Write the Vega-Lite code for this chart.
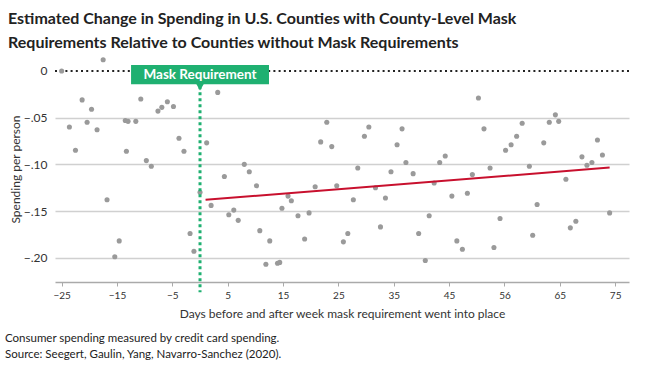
{
  "$schema": "https://vega.github.io/schema/vega-lite/v6.json",
  "padding": {"left": 5, "top": 11, "right": 5, "bottom": 5},
  "background": "white",
  "title": {
    "text": ["Estimated Change in Spending in U.S. Counties with County-Level Mask", "Requirements Relative to Counties without Mask Requirements"],
    "anchor": "start",
    "frame": "bounds",
    "dx": 3,
    "font": "Lato",
    "fontSize": 16,
    "fontWeight": "bold",
    "color": "#222222",
    "lineHeight": 24,
    "offset": 5
  },
  "datasets": {
    "pts": [
      {"day": -25, "spend": 0}, {"day": -17.5, "spend": 0.012}, {"day": -21.3, "spend": -0.031}, {"day": -19.6, "spend": -0.041},
      {"day": -23.6, "spend": -0.060}, {"day": -20.4, "spend": -0.055}, {"day": -18.6, "spend": -0.063}, {"day": -22.5, "spend": -0.085},
      {"day": -10.7, "spend": -0.030}, {"day": -13.5, "spend": -0.053}, {"day": -13.0, "spend": -0.054}, {"day": -11.6, "spend": -0.054},
      {"day": -13.3, "spend": -0.086}, {"day": -9.7, "spend": -0.096}, {"day": -8.8, "spend": -0.102}, {"day": -7.6, "spend": -0.043},
      {"day": -6.9, "spend": -0.039}, {"day": -5.9, "spend": -0.033}, {"day": -4.8, "spend": -0.038}, {"day": -3.8, "spend": -0.072},
      {"day": -2.9, "spend": -0.086}, {"day": -16.8, "spend": -0.138}, {"day": -14.6, "spend": -0.182}, {"day": -15.4, "spend": -0.199},
      {"day": -1.8, "spend": -0.174}, {"day": -1.1, "spend": -0.193}, {"day": 0, "spend": -0.130}, {"day": 1.2, "spend": -0.077},
      {"day": 3.2, "spend": -0.023}, {"day": 2.0, "spend": -0.144}, {"day": 4.4, "spend": -0.113}, {"day": 5.2, "spend": -0.154},
      {"day": 6.1, "spend": -0.149}, {"day": 6.9, "spend": -0.160}, {"day": 8.0, "spend": -0.100}, {"day": 8.9, "spend": -0.108},
      {"day": 10.2, "spend": -0.123}, {"day": 10.8, "spend": -0.171}, {"day": 12.6, "spend": -0.182}, {"day": 11.9, "spend": -0.207},
      {"day": 14.0, "spend": -0.206}, {"day": 14.4, "spend": -0.205}, {"day": 14.8, "spend": -0.147}, {"day": 15.9, "spend": -0.134},
      {"day": 16.5, "spend": -0.139}, {"day": 17.7, "spend": -0.155}, {"day": 18.9, "spend": -0.180}, {"day": 19.7, "spend": -0.152},
      {"day": 20.8, "spend": -0.124}, {"day": 21.8, "spend": -0.076}, {"day": 22.9, "spend": -0.055}, {"day": 23.8, "spend": -0.081},
      {"day": 24.7, "spend": -0.123}, {"day": 25.9, "spend": -0.183}, {"day": 26.7, "spend": -0.174}, {"day": 27.7, "spend": -0.138},
      {"day": 28.5, "spend": -0.104}, {"day": 29.7, "spend": -0.070}, {"day": 30.5, "spend": -0.060}, {"day": 31.7, "spend": -0.125},
      {"day": 32.6, "spend": -0.167}, {"day": 33.5, "spend": -0.136}, {"day": 34.5, "spend": -0.108}, {"day": 35.6, "spend": -0.079},
      {"day": 36.5, "spend": -0.062}, {"day": 37.2, "spend": -0.098}, {"day": 38.5, "spend": -0.110}, {"day": 39.5, "spend": -0.174},
      {"day": 40.7, "spend": -0.203}, {"day": 41.4, "spend": -0.155}, {"day": 42.3, "spend": -0.120}, {"day": 43.3, "spend": -0.098},
      {"day": 44.3, "spend": -0.091}, {"day": 45.5, "spend": -0.134}, {"day": 46.4, "spend": -0.182}, {"day": 47.4, "spend": -0.191},
      {"day": 48.3, "spend": -0.131}, {"day": 49.2, "spend": -0.111}, {"day": 50.3, "spend": -0.029}, {"day": 51.3, "spend": -0.062},
      {"day": 52.4, "spend": -0.104}, {"day": 53.1, "spend": -0.189}, {"day": 54.2, "spend": -0.158}, {"day": 55.2, "spend": -0.085},
      {"day": 56.2, "spend": -0.079}, {"day": 57.2, "spend": -0.070}, {"day": 58.2, "spend": -0.056}, {"day": 59.5, "spend": -0.102},
      {"day": 60.9, "spend": -0.143}, {"day": 60.1, "spend": -0.176}, {"day": 62.1, "spend": -0.077}, {"day": 63.1, "spend": -0.055},
      {"day": 64.2, "spend": -0.047}, {"day": 64.8, "spend": -0.054}, {"day": 66.1, "spend": -0.116}, {"day": 66.9, "spend": -0.168},
      {"day": 67.9, "spend": -0.161}, {"day": 69.0, "spend": -0.092}, {"day": 69.9, "spend": -0.101}, {"day": 70.8, "spend": -0.098},
      {"day": 71.8, "spend": -0.074}, {"day": 72.7, "spend": -0.090}, {"day": 74.0, "spend": -0.152}
    ],
    "fit": [{"day": 1, "spend": -0.138}, {"day": 74, "spend": -0.1035}],
    "zero": [{"spend": 0}],
    "mask": [{"day": 0, "top": -0.0165, "bottom": -0.237, "left": -12.46, "right": 12.46, "boxTop": 0.0064, "boxBottom": -0.0142, "mid": -0.0039, "tip": -0.0165, "label": "Mask Requirement"}]
  },
  "vconcat": [
    {
      "width": 574,
      "height": 226,
      "title": {
        "text": ["Consumer spending measured by credit card spending.", "Source: Seegert, Gaulin, Yang, Navarro-Sanchez (2020)."],
        "orient": "bottom",
        "anchor": "start",
        "frame": "group",
        "dx": -50,
        "font": "Lato",
        "fontSize": 11.5,
        "fontWeight": "normal",
        "color": "#222222",
        "lineHeight": 16,
        "offset": 14
      },
      "layer": [
        {
          "data": {"name": "zero"},
          "mark": {"type": "rule", "color": "#222222", "strokeWidth": 2, "strokeDash": [2, 3.2]},
          "encoding": {
            "y": {
              "field": "spend", "type": "quantitative",
              "scale": {"domain": [-0.226, 0.016], "nice": false, "zero": false},
              "axis": {
                "title": "Spending per person",
                "values": [0, -0.05, -0.1, -0.15, -0.2],
                "labelExpr": "datum.value == 0 ? '0' : replace(format(datum.value, '.2f'), '0.', '.')",
                "grid": true,
                "gridColor": {"condition": {"test": "datum.value === 0", "value": "transparent"}, "value": "#d0d0d0"},
                "gridWidth": 1.5,
                "domain": false,
                "ticks": false,
                "labelFont": "Lato",
                "labelFontSize": 12,
                "labelColor": "#333333",
                "labelPadding": 8,
                "titleFont": "Lato",
                "titleFontSize": 12,
                "titleFontWeight": "normal",
                "titleColor": "#333333",
                "titleX": -32.5,
                "titleBaseline": "bottom"
              }
            }
          }
        },
        {
          "data": {"name": "pts"},
          "mark": {"type": "circle", "color": "#9a9a9a", "opacity": 1, "size": 26},
          "encoding": {
            "x": {
              "field": "day", "type": "quantitative",
              "scale": {"domain": [-26.2, 77.5], "nice": false, "zero": false},
              "axis": {
                "title": "Days before and after week mask requirement went into place",
                "values": [-25, -15, -5, 5, 15, 25, 35, 45, 55, 65, 75],
                "labelExpr": "datum.value == 55 ? '56' : datum.label",
                "grid": false,
                "domainColor": "#aaaaaa",
                "domainWidth": 1.5,
                "tickColor": "#aaaaaa",
                "tickSize": 4,
                "labelFont": "Lato",
                "labelFontSize": 10,
                "labelColor": "#333333",
                "labelPadding": 4,
                "titleFont": "Lato",
                "titleFontSize": 12,
                "titleFontWeight": "normal",
                "titleColor": "#333333",
                "titlePadding": 8
              }
            },
            "y": {"field": "spend", "type": "quantitative"}
          }
        },
        {
          "data": {"name": "fit"},
          "mark": {"type": "line", "color": "#c8102e", "strokeWidth": 2},
          "encoding": {
            "x": {"field": "day", "type": "quantitative"},
            "y": {"field": "spend", "type": "quantitative"}
          }
        },
        {
          "data": {"name": "mask"},
          "mark": {"type": "rule", "color": "#1fb071", "strokeWidth": 3, "strokeDash": [3, 3]},
          "encoding": {
            "x": {"field": "day", "type": "quantitative"},
            "y": {"field": "top", "type": "quantitative"},
            "y2": {"field": "bottom"}
          }
        },
        {
          "data": {"name": "mask"},
          "mark": {"type": "rect", "color": "#1fb071"},
          "encoding": {
            "x": {"field": "left", "type": "quantitative"},
            "x2": {"field": "right"},
            "y": {"field": "boxTop", "type": "quantitative"},
            "y2": {"field": "boxBottom"}
          }
        },
        {
          "data": {"name": "mask"},
          "mark": {"type": "point", "shape": "triangle-down", "filled": true, "color": "#1fb071", "opacity": 1, "size": 90},
          "encoding": {
            "x": {"field": "day", "type": "quantitative"},
            "y": {"field": "tip", "type": "quantitative"}
          }
        },
        {
          "data": {"name": "mask"},
          "mark": {"type": "text", "color": "white", "font": "Lato", "fontSize": 13.5, "fontWeight": "bold", "align": "center", "baseline": "middle"},
          "encoding": {
            "x": {"field": "day", "type": "quantitative"},
            "y": {"field": "mid", "type": "quantitative"},
            "text": {"field": "label"}
          }
        }
      ]
    }
  ],
  "config": {"view": {"stroke": null}, "concat": {"spacing": 0}}
}
